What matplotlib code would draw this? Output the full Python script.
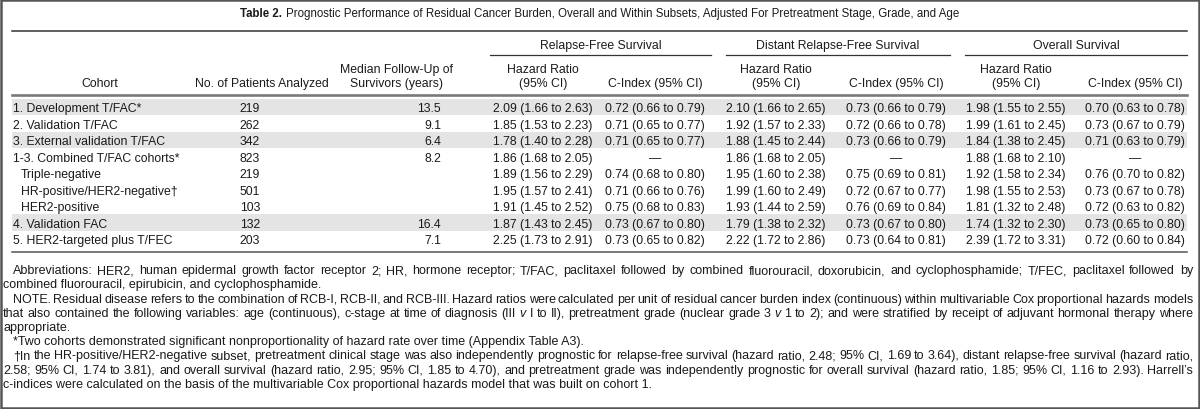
import matplotlib
matplotlib.use("Agg")
import matplotlib.pyplot as plt
from matplotlib.patches import Rectangle

plt.rcParams["font.family"] = ["Liberation Sans", "DejaVu Sans"]

# -------------------------
# Datos de la tabla
# -------------------------
title_bold = "Table 2."
title_rest = ("Prognostic Performance of Residual Cancer Burden, Overall and Within Subsets, "
              "Adjusted For Pretreatment Stage, Grade, and Age")

groups = ["Relapse-Free Survival", "Distant Relapse-Free Survival", "Overall Survival"]

cohorts = ["1. Development T/FAC*", "2. Validation T/FAC", "3. External validation T/FAC",
           "1-3. Combined T/FAC cohorts*", "Triple-negative", "HR-positive/HER2-negative\u2020",
           "HER2-positive", "4. Validation FAC", "5. HER2-targeted plus T/FEC"]
subgroup = [False, False, False, False, True, True, True, False, False]
n_patients = ["219", "262", "342", "823", "219", "501", "103", "132", "203"]
median_fu = ["13.5", "9.1", "6.4", "8.2", "", "", "", "16.4", "7.1"]

rfs_hr = ["2.09 (1.66 to 2.63)", "1.85 (1.53 to 2.23)", "1.78 (1.40 to 2.28)", "1.86 (1.68 to 2.05)",
          "1.89 (1.56 to 2.29)", "1.95 (1.57 to 2.41)", "1.91 (1.45 to 2.52)", "1.87 (1.43 to 2.45)",
          "2.25 (1.73 to 2.91)"]
rfs_c = ["0.72 (0.66 to 0.79)", "0.71 (0.65 to 0.77)", "0.71 (0.65 to 0.77)", "\u2014",
         "0.74 (0.68 to 0.80)", "0.71 (0.66 to 0.76)", "0.75 (0.68 to 0.83)", "0.73 (0.67 to 0.80)",
         "0.73 (0.65 to 0.82)"]
drfs_hr = ["2.10 (1.66 to 2.65)", "1.92 (1.57 to 2.33)", "1.88 (1.45 to 2.44)", "1.86 (1.68 to 2.05)",
           "1.95 (1.60 to 2.38)", "1.99 (1.60 to 2.49)", "1.93 (1.44 to 2.59)", "1.79 (1.38 to 2.32)",
           "2.22 (1.72 to 2.86)"]
drfs_c = ["0.73 (0.66 to 0.79)", "0.72 (0.66 to 0.78)", "0.73 (0.66 to 0.79)", "\u2014",
          "0.75 (0.69 to 0.81)", "0.72 (0.67 to 0.77)", "0.76 (0.69 to 0.84)", "0.73 (0.67 to 0.80)",
          "0.73 (0.64 to 0.81)"]
os_hr = ["1.98 (1.55 to 2.55)", "1.99 (1.61 to 2.45)", "1.84 (1.38 to 2.45)", "1.88 (1.68 to 2.10)",
         "1.92 (1.58 to 2.34)", "1.98 (1.55 to 2.53)", "1.81 (1.32 to 2.48)", "1.74 (1.32 to 2.30)",
         "2.39 (1.72 to 3.31)"]
os_c = ["0.70 (0.63 to 0.78)", "0.73 (0.67 to 0.79)", "0.71 (0.63 to 0.79)", "\u2014",
        "0.76 (0.70 to 0.82)", "0.73 (0.67 to 0.78)", "0.72 (0.63 to 0.82)", "0.73 (0.65 to 0.80)",
        "0.72 (0.60 to 0.84)"]

# notas al pie: cada parrafo con sus renglones tal como en la tabla original
footnotes = [
    ["Abbreviations: HER2, human epidermal growth factor receptor 2; HR, hormone receptor; T/FAC, "
     "paclitaxel followed by combined fluorouracil, doxorubicin, and cyclophosphamide; T/FEC, paclitaxel followed by",
     "combined fluorouracil, epirubicin, and cyclophosphamide."],
    ["NOTE. Residual disease refers to the combination of RCB-I, RCB-II, and RCB-III. Hazard ratios were calculated "
     "per unit of residual cancer burden index (continuous) within multivariable Cox proportional hazards models",
     "that also contained the following variables: age (continuous), c-stage at time of diagnosis (III v I to II), "
     "pretreatment grade (nuclear grade 3 v 1 to 2); and were stratified by receipt of adjuvant hormonal therapy where",
     "appropriate."],
    ["*Two cohorts demonstrated significant nonproportionality of hazard rate over time (Appendix Table A3)."],
    ["\u2020In the HR-positive/HER2-negative subset, pretreatment clinical stage was also independently prognostic "
     "for relapse-free survival (hazard ratio, 2.48; 95% CI, 1.69 to 3.64), distant relapse-free survival (hazard ratio,",
     "2.58; 95% CI, 1.74 to 3.81), and overall survival (hazard ratio, 2.95; 95% CI, 1.85 to 4.70), and pretreatment "
     "grade was independently prognostic for overall survival (hazard ratio, 1.85; 95% CI, 1.16 to 2.93). Harrell\u2019s",
     "c-indices were calculated on the basis of the multivariable Cox proportional hazards model that was built on cohort 1."],
]

shaded_rows = [0, 2, 7]

# -------------------------
# Figura (coordenadas en pixeles)
# -------------------------
W, H = 1200, 410
fig = plt.figure(figsize=(W / 100, H / 100), dpi=100)
ax = fig.add_axes([0, 0, 1, 1])
ax.set_xlim(0, W)
ax.set_ylim(H, 0)
ax.axis("off")

fs = 8.8
fs_title = 8.3
fs_note = 9.0
txt = "#1a1a1a"
left, right = 12, 1187
base = 4.3   # desplazamiento centro -> linea base


def put(x, y, s, ha="left", size=fs, **kw):
    return ax.text(x, y + base, s, fontsize=size, ha=ha, va="baseline", color=txt, **kw)


# titulo
fig.canvas.draw()
rend = fig.canvas.get_renderer()
t1 = put(0, 12.5, title_bold, size=fs_title, weight="bold")
t2 = put(0, 12.5, title_rest, size=fs_title)
w1 = t1.get_window_extent(rend).width
w2 = t2.get_window_extent(rend).width
x0 = W / 2 - (w1 + 4 + w2) / 2
t1.set_x(x0)
t2.set_x(x0 + w1 + 4)

ax.plot([left, right], [31.5, 31.5], color="#333333", lw=1.1)

# encabezados de grupo
spans = [(490, 711), (726, 950), (965, 1187)]
for g, (a, b) in zip(groups, spans):
    put((a + b) / 2, 45, g, ha="center")
    ax.plot([a, b], [55.5, 55.5], color="#333333", lw=0.9)

# columnas de estadisticos
stat_cols = [rfs_hr, rfs_c, drfs_hr, drfs_c, os_hr, os_c]
stat_x = [543, 655, 776, 896, 1016, 1135]
for i, xc in enumerate(stat_x):
    if i % 2 == 0:
        put(xc, 69, "Hazard Ratio", ha="center")
        put(xc, 83, "(95% CI)", ha="center")
    else:
        put(xc, 83, "C-Index (95% CI)", ha="center")

put(100, 83, "Cohort", ha="center")
put(262, 83, "No. of Patients Analyzed", ha="center")
put(396, 69, "Median Follow-Up of", ha="center")
put(396, 83, "Survivors (years)", ha="center")

ax.plot([left, right], [96, 96], color="#7a7a7a", lw=1.9)

# filas
row0, row_h = 108, 16.5
for i in range(len(cohorts)):
    yc = row0 + i * row_h
    if i in shaded_rows:
        ax.add_patch(Rectangle((left, yc - row_h / 2), right - left, row_h,
                               facecolor="#e4e4e4", edgecolor="none", zorder=0))
    put(left + 1 + (8 if subgroup[i] else 0), yc, cohorts[i])
    put(250, yc, n_patients[i], ha="center")
    put(441, yc, median_fu[i], ha="right")
    for col, xc in zip(stat_cols, stat_x):
        put(xc, yc, col[i], ha="center")

ax.plot([left, right], [253, 253], color="#555555", lw=1.1)

# notas al pie (justificadas)
fn_left, fn_indent, fn_right = 3, 13, 1193
y = 270
line_h = 14.2
for para in footnotes:
    for j, line in enumerate(para):
        xs = fn_indent if j == 0 else fn_left
        last = j == len(para) - 1
        if last:
            put(xs, y, line, size=fs_note)
        else:
            words = line.split(" ")
            objs = [put(0, y, w, size=fs_note, style="italic" if w == "v" else "normal")
                    for w in words]
            widths = [o.get_window_extent(rend).width for o in objs]
            gap = (fn_right - xs - sum(widths)) / (len(words) - 1)
            x = xs
            for o, w in zip(objs, widths):
                o.set_x(x)
                x += w + gap
        y += line_h

# borde exterior
ax.add_patch(Rectangle((1, 1), W - 2.5, H - 2.5, facecolor="none", edgecolor="#555555", lw=1.8))

fig.savefig("out.png", dpi=100)
